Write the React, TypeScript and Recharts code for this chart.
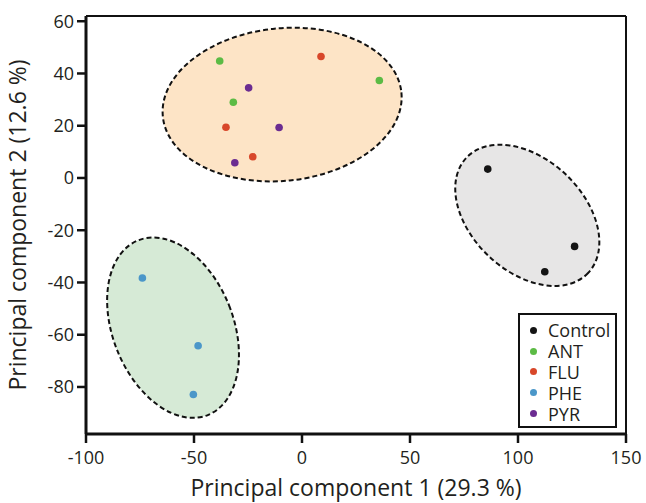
import {
  ScatterChart,
  Scatter,
  XAxis,
  YAxis,
  ReferenceArea,
  ReferenceLine,
  Legend,
} from 'recharts'

// PCA scores (PC1, PC2)
const controlPts = [
  { x: 86, y: 3.4 },
  { x: 126.2, y: -26.2 },
  { x: 112.4, y: -35.9 },
]
const antPts = [
  { x: -38.1, y: 44.8 },
  { x: -31.8, y: 29 },
  { x: 35.8, y: 37.3 },
]
const fluPts = [
  { x: 8.8, y: 46.5 },
  { x: -35.2, y: 19.4 },
  { x: -22.8, y: 8.1 },
]
const phePts = [
  { x: -73.9, y: -38.3 },
  { x: -48.1, y: -64.2 },
  { x: -50.3, y: -82.9 },
]
const pyrPts = [
  { x: -24.7, y: 34.5 },
  { x: -10.6, y: 19.3 },
  { x: -31.1, y: 5.8 },
]

const xTicks = [-100, -50, 0, 50, 100, 150]
const yTicks = [-80, -60, -40, -20, 0, 20, 40, 60]

const groups = [
  { name: 'Control', color: '#141414', data: controlPts },
  { name: 'ANT', color: '#5cbb45', data: antPts },
  { name: 'FLU', color: '#d8472a', data: fluPts },
  { name: 'PHE', color: '#4b97c9', data: phePts },
  { name: 'PYR', color: '#6b2c91', data: pyrPts },
]

// confidence ellipses: centre + semi-axes in data units, tilt in degrees
const clusters = [
  { cx: -9.2, cy: 28.1, rx: 55.5, ry: 29.2, angle: -5.8, fill: '#fde4c6' },
  { cx: 104.3, cy: -14.3, rx: 38.8, ry: 21.5, angle: 43.5, fill: '#e7e6e6' },
  { cx: -59.7, cy: -57.3, rx: 27.9, ry: 36.0, angle: -21.7, fill: '#d6ead6' },
]

const INK = '#231f20'

function EllipseShape(props: any) {
  const { x, y, width, height, angle, fill } = props
  const cx = x + width / 2
  const cy = y + height / 2
  return (
    <ellipse
      cx={cx}
      cy={cy}
      rx={Math.abs(width) / 2}
      ry={Math.abs(height) / 2}
      transform={`rotate(${angle} ${cx} ${cy})`}
      fill={fill}
      stroke="#111"
      strokeWidth={2}
      strokeDasharray="5 3"
    />
  )
}

function LegendBox() {
  return (
    <div
      style={{
        boxSizing: 'border-box',
        width: 99,
        height: 115,
        border: '2px solid #111',
        background: '#fff',
        paddingTop: 5,
        fontSize: 18,
        lineHeight: 1,
        color: INK,
      }}
    >
      {groups.map((g) => (
        <div key={g.name} style={{ display: 'flex', alignItems: 'center', height: 20.8 }}>
          <span
            style={{
              display: 'inline-block',
              width: 7,
              height: 7,
              borderRadius: '50%',
              background: g.color,
              marginLeft: 9.5,
              marginRight: 11.5,
            }}
          />
          <span style={{ lineHeight: '18px' }}>{g.name}</span>
        </div>
      ))}
    </div>
  )
}

export default function App() {
  return (
    <div style={{ position: 'absolute', left: 0, top: 0, fontFamily: '"Open Sans", sans-serif' }}>
      <ScatterChart width={646} height={503} margin={{ top: 16, right: 20, bottom: 0, left: 0 }}>
        <XAxis
          type="number"
          dataKey="x"
          domain={[-100, 150]}
          ticks={xTicks}
          allowDataOverflow
          height={69}
          tickSize={9}
          tickMargin={8}
          axisLine={{ stroke: '#111', strokeWidth: 3 }}
          tickLine={{ stroke: '#111', strokeWidth: 2.5 }}
          tick={{ fontSize: 18, fill: INK }}
          label={{
            value: 'Principal component 1 (29.3 %)',
            position: 'insideBottom',
            offset: 7,
            fontSize: 23,
            fill: INK,
          }}
        />
        <YAxis
          type="number"
          dataKey="y"
          domain={[-98, 62]}
          ticks={yTicks}
          allowDataOverflow
          width={86}
          tickSize={9}
          tickMargin={3}
          axisLine={{ stroke: '#111', strokeWidth: 3 }}
          tickLine={{ stroke: '#111', strokeWidth: 2.5 }}
          tick={{ fontSize: 18, fill: INK }}
          label={{
            value: 'Principal component 2 (12.6 %)',
            angle: -90,
            position: 'insideLeft',
            offset: 18,
            fontSize: 23,
            fill: INK,
            style: { textAnchor: 'middle' },
          }}
        />
        <ReferenceLine y={62} stroke="#111" strokeWidth={2} />
        <ReferenceLine x={150} stroke="#111" strokeWidth={2} />
        {clusters.map((c, i) => (
          <ReferenceArea
            key={i}
            x1={c.cx - c.rx}
            x2={c.cx + c.rx}
            y1={c.cy - c.ry}
            y2={c.cy + c.ry}
            shape={(p: any) => <EllipseShape {...p} angle={c.angle} fill={c.fill} />}
          />
        ))}
        {groups.map((g) => (
          <Scatter
            key={g.name}
            name={g.name}
            data={g.data}
            fill={g.color}
            isAnimationActive={false}
            shape={(p: any) => <circle cx={p.cx} cy={p.cy} r={3.8} fill={g.color} />}
          />
        ))}
        <Legend
          layout="vertical"
          align="center"
          verticalAlign="middle"
          wrapperStyle={{ position: 'absolute', left: 518, top: 313, width: 99, height: 115 }}
          content={() => <LegendBox />}
        />
      </ScatterChart>
    </div>
  )
}
